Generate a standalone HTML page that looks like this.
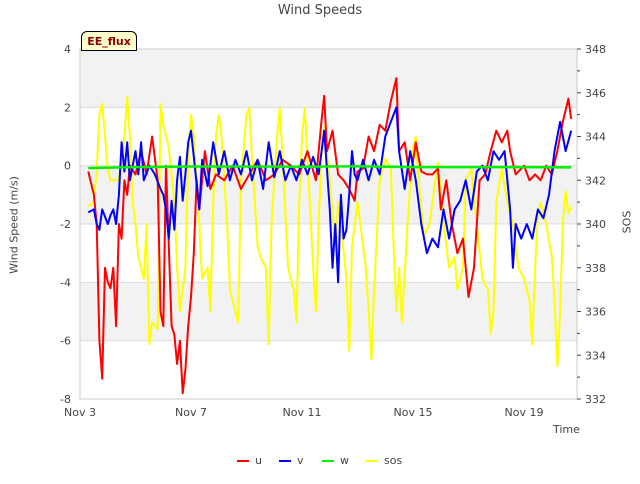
<!DOCTYPE html>
<html><head><meta charset="utf-8"><style>
body{margin:0;background:#fff;font-family:"DejaVu Sans","Liberation Sans",sans-serif;}
svg text{font-family:"DejaVu Sans","Liberation Sans",sans-serif;}
</style></head><body>
<svg id="chart" width="640" height="480" xmlns="http://www.w3.org/2000/svg">
<g id="bands"></g><g id="grid"></g><g id="series"></g><g id="axes"></g>
</svg>
<script>
const xTickDays=[3,7,11,15,19];
const xTickLabels=["Nov 3","Nov 7","Nov 11","Nov 15","Nov 19"];
const yLeftTicks=[-8,-6,-4,-2,0,2,4];
const yRightTicks=[332,334,336,338,340,342,344,346,348];
const uT=[3.3,3.4,3.5,3.6,3.7,3.8,3.9,4.0,4.1,4.2,4.3,4.4,4.5,4.6,4.7,4.8,5.0,5.2,5.4,5.6,5.8,5.9,6.0,6.1,6.3,6.4,6.5,6.6,6.7,6.8,6.9,7.0,7.1,7.2,7.3,7.5,7.7,7.9,8.2,8.5,8.8,9.1,9.4,9.7,10,10.3,10.6,10.9,11.2,11.5,11.7,11.8,11.9,12.1,12.3,12.5,12.7,12.9,13.0,13.2,13.4,13.6,13.8,14.0,14.2,14.4,14.5,14.7,14.9,15.1,15.3,15.5,15.7,15.9,16.0,16.2,16.4,16.6,16.8,17.0,17.2,17.4,17.6,17.8,18.0,18.2,18.4,18.5,18.7,19.0,19.2,19.4,19.6,19.8,20.0,20.2,20.4,20.6,20.7];
const uV=[-0.2,-0.6,-1.0,-2,-6,-7.3,-3.5,-4,-4.2,-3.5,-5.5,-2,-2.5,-0.5,-1,0,-0.3,0.5,-0.3,1,-0.5,-5,-5.5,0,-5.5,-5.8,-6.8,-6,-7.8,-7,-5.5,-4.5,-3,-0.5,-1.5,0.5,-0.8,-0.3,-0.5,0,-0.8,-0.3,0.2,-0.5,-0.3,0.2,0,-0.3,0.5,-0.5,1.5,2.4,0.5,1.2,-0.3,-0.5,-0.8,-1.2,-0.2,-0.1,1,0.5,1.4,1.2,2.2,3.0,0.5,0.8,-0.5,0.8,-0.2,-0.3,-0.3,-0.1,-1.5,-0.5,-2,-3,-2.5,-4.5,-3.5,-0.5,-0.3,0.5,1.2,0.8,1.2,0.5,-0.3,0,-0.5,-0.3,-0.5,0,-0.3,0.5,1.5,2.3,1.6];
const vT=[3.3,3.5,3.6,3.7,3.8,4.0,4.1,4.2,4.3,4.4,4.5,4.6,4.7,4.8,5.0,5.1,5.2,5.3,5.5,5.7,5.9,6.0,6.1,6.2,6.3,6.4,6.5,6.6,6.7,6.8,6.9,7.0,7.1,7.3,7.4,7.6,7.8,8.0,8.2,8.4,8.6,8.8,9.0,9.2,9.4,9.6,9.8,10,10.2,10.4,10.6,10.8,11.0,11.2,11.4,11.6,11.8,12.0,12.1,12.2,12.3,12.4,12.5,12.6,12.7,12.8,12.9,13.0,13.2,13.4,13.6,13.8,14.0,14.2,14.4,14.5,14.7,14.9,15.1,15.3,15.5,15.7,15.9,16.1,16.3,16.5,16.7,16.9,17.1,17.3,17.5,17.7,17.9,18.1,18.3,18.5,18.6,18.7,18.9,19.1,19.3,19.5,19.7,19.9,20.1,20.3,20.5,20.7];
const vV=[-1.6,-1.5,-2.0,-2.2,-1.5,-2,-1.7,-1.5,-2.0,-1.0,0.8,-0.2,0.8,-0.5,0.5,-0.3,0.8,-0.5,0,-0.3,-0.8,-1,-1.5,-2.5,-1.2,-2.2,-0.5,0.3,-1.2,-0.3,0.8,1.2,0.3,-1.5,0.2,-0.7,0.8,-0.3,0.5,-0.5,0.2,-0.3,0.5,-0.5,0.2,-0.8,0.8,-0.4,0.5,-0.5,0,-0.5,0.2,-0.3,0.3,-0.3,1.2,-1.5,-3.5,-2,-4,-1,-2.5,-2.2,-1,0.5,-0.3,-0.5,0.2,-0.5,0.2,-0.3,1.0,1.5,2.0,0.5,-0.8,0.5,-0.5,-2,-3,-2.5,-2.8,-1.5,-2.5,-1.5,-1.2,-0.5,-1.5,-0.2,0,-0.5,0.5,0.2,0.5,-1.5,-3.5,-2,-2.5,-2.0,-2.5,-1.5,-1.8,-1.0,0.5,1.5,0.5,1.2];
const wT=[3.3,5,7,9,11,13,15,17,19,20.7];
const wV=[-0.08,-0.05,-0.03,-0.03,-0.04,-0.02,-0.05,-0.05,-0.05,-0.06];
const sT=[3.3,3.5,3.6,3.7,3.8,3.9,4.0,4.1,4.2,4.4,4.6,4.7,4.8,4.9,5.0,5.1,5.2,5.3,5.4,5.5,5.6,5.8,5.9,6.0,6.2,6.4,6.5,6.6,6.8,6.9,7.0,7.1,7.3,7.4,7.6,7.7,7.8,7.9,8.0,8.1,8.3,8.4,8.6,8.7,8.8,9.0,9.1,9.2,9.4,9.5,9.7,9.8,9.9,10.1,10.2,10.3,10.5,10.7,10.8,10.9,11.0,11.1,11.2,11.4,11.5,11.6,11.7,11.8,12.0,12.2,12.3,12.4,12.6,12.7,12.8,13.0,13.1,13.3,13.4,13.5,13.6,13.8,14.0,14.2,14.3,14.4,14.5,14.6,14.8,15.0,15.1,15.2,15.4,15.6,15.8,15.9,16.1,16.3,16.5,16.6,16.8,16.9,17.1,17.3,17.5,17.7,17.8,17.9,18.0,18.2,18.4,18.6,18.8,19.0,19.2,19.3,19.4,19.5,19.6,19.8,20.0,20.1,20.2,20.3,20.4,20.5,20.6,20.7];
const sV=[340.8,341,342.5,345,345.5,344,342.5,342,342,342,344,345.8,344,341,340,338.5,338,337.5,340,334.5,335.5,335.2,345.5,344.5,343.5,341,338,336,338,343,345,344,340,337.5,338,336,341,344,345,344,340,337,336,335.5,342,345,345.3,343,339,338.5,338,334.5,340,344,345.3,343,338,337,335.5,341,344,345.3,343,338,336,340,343,344.5,342,339,341,340,337.5,334.2,339,341,340,338,336,333.8,337,342,343,342.5,339,336,338,335.5,340,343.5,344,342,339.5,340,342,342.8,340,338,338.5,337,338,342,342.5,340,337.5,337,335,336,341,342.5,341,340,338,337.5,336.5,334.5,338,340.5,341,340,338.5,336.5,333.5,336,340,341.5,340.5,340.8];

const L=80,R=577,T=49,B=399;
const xS=d=>L+(d-3)*27.75;
const yL=v=>B-(v+8)*(B-T)/12;
const yR=v=>B-(v-332)*(B-T)/16;
const NS="http://www.w3.org/2000/svg";
function mk(tag,attrs,parent,txt){const e=document.createElementNS(NS,tag);for(const k in attrs)e.setAttribute(k,attrs[k]);if(txt!==undefined)e.textContent=txt;document.getElementById(parent)?document.getElementById(parent).appendChild(e):parent.appendChild(e);return e;}
const svg=document.getElementById('chart');
// bands
[[2,4],[-2,0],[-6,-4]].forEach((b,i)=>{const r=mk('rect',{x:L,y:yL(b[1]),width:R-L,height:yL(b[0])-yL(b[1]),fill:'#f2f2f2'},'bands');

});
yLeftTicks.forEach(v=>{const l=mk('line',{x1:L,x2:R,y1:yL(v),y2:yL(v),stroke:'#dcdcdc','stroke-width':1},'grid');

});
function series(ts,vs,sc,color,name,w){const pts=ts.map((t,i)=>xS(t).toFixed(1)+','+sc(vs[i]).toFixed(1)).join(' ');
const p=mk('polyline',{points:pts,fill:'none',stroke:color,'stroke-width':w,'stroke-linejoin':'round'},'series');

}
series(sT,sV,yR,'#ffff00','sos-line',2);
series(uT,uV,yL,'#ff0000','u-line',2);
series(vT,vV,yL,'#0000ff','v-line',2);
series(wT,wV,yL,'#00ee00','w-line',2.5);
// axes frame
const ax=mk('rect',{x:L,y:T,width:R-L,height:B-T,fill:'none',stroke:'#cccccc'},'axes');


yLeftTicks.forEach(v=>{const t=mk('text',{x:71,y:yL(v)+4,'text-anchor':'end','font-size':11,fill:'#444'},'axes',String(v));

});
yRightTicks.forEach(v=>{const t=mk('text',{x:585,y:yR(v)+4,'font-size':11,fill:'#444'},'axes',String(v));


const k=mk('line',{x1:R,x2:R+4,y1:yR(v),y2:yR(v),stroke:'#444'},'axes');


if(v<348){const m=mk('line',{x1:R,x2:R+3,y1:yR(v+1),y2:yR(v+1),stroke:'#444'},'axes');

}});
xTickDays.forEach((d,i)=>{const t=mk('text',{x:xS(d),y:416,'text-anchor':'middle','font-size':11,fill:'#444'},'axes',xTickLabels[i]);

});
</script>
<div style="position:absolute;left:0;top:3px;width:640px;text-align:center;font-size:13px;color:#444;">Wind Speeds</div>
<div style="position:absolute;left:14px;top:225px;transform:translate(-50%,-50%) rotate(-90deg);font-size:11px;color:#444;white-space:nowrap;">Wind Speed (m/s)</div>
<div style="position:absolute;left:627px;top:222px;transform:translate(-50%,-50%) rotate(-90deg);font-size:11px;color:#444;white-space:nowrap;">SOS</div>
<div style="position:absolute;left:553px;top:423px;font-size:11px;color:#444;">Time</div>
<div style="position:absolute;left:81px;top:31px;width:54px;height:18px;background:#ffffcc;border:1px solid #000;border-radius:6px 6px 0 0;font-size:11px;font-weight:bold;color:#8b0000;text-align:center;line-height:19px;">EE_flux</div>
<div style="position:absolute;top:454px;left:0;width:640px;font-size:11px;color:#444;">
<span style="position:absolute;left:237px;"><span style="display:inline-block;width:12px;height:2px;background:#f00;vertical-align:middle;margin-right:6px;"></span>u</span>
<span style="position:absolute;left:279px;"><span style="display:inline-block;width:12px;height:2px;background:#00f;vertical-align:middle;margin-right:6px;"></span>v</span>
<span style="position:absolute;left:322px;"><span style="display:inline-block;width:12px;height:2px;background:#0e0;vertical-align:middle;margin-right:6px;"></span>w</span>
<span style="position:absolute;left:366px;"><span style="display:inline-block;width:12px;height:2px;background:#ff0;vertical-align:middle;margin-right:6px;"></span>sos</span>
</div>
</body></html>
